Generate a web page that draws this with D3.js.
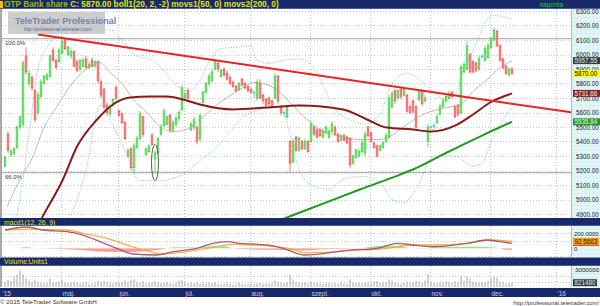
<!DOCTYPE html>
<html>
<head>
<meta charset="utf-8">
<script src="https://cdn.jsdelivr.net/npm/d3@7/dist/d3.min.js"></script>
<style>
body { margin: 0; background: #fff; }
svg { display: block; font-family: "Liberation Sans", Arial, sans-serif; }
</style>
</head>
<body>
<div id="chart"></div>
<script>
// ---- data (trading day index) ----
var monthLabels = ["'15", "máj.", "jún.", "júl.", "aug.", "szept.", "okt.", "nov.", "dec.", "'16"];
var monthStartDay = [0, 20, 39, 61, 83, 103, 123, 143, 163, 185];
var priceTicks = d3.range(4900, 6301, 100);

// daily candles, day 1..170 : [open, high, low, close]
var ohlc = [
 [5230,5300,5220,5290],[5450,5470,5320,5340],[5310,5350,5290,5330],[5320,5360,5300,5350],[5360,5510,5350,5500],
 [5500,5580,5480,5570],[5520,5960,5500,5940],[5990,6050,5860,5880],[5800,5890,5780,5870],[5840,5860,5750,5770],
 [5750,5760,5530,5550],[5600,5740,5580,5720],[5710,5830,5700,5810],[5800,5860,5790,5850],[5830,5870,5820,5860],
 [5850,6000,5840,5990],[6030,6050,5950,5960],[5960,5970,5900,5910],[5950,6050,5940,6030],[6010,6130,6000,6090],
 [6100,6110,6030,6040],[6000,6060,5990,6050],[5990,6040,5970,6020],[6020,6030,5910,5920],[5950,5960,5880,5890],
 [5900,5970,5880,5960],[5920,5980,5910,5960],[5970,5990,5900,5910],[5910,5950,5900,5930],[5960,5980,5910,5920],
 [5920,5960,5910,5950],[5950,5960,5800,5820],[5810,5830,5700,5720],[5760,5770,5620,5640],[5650,5670,5580,5600],
 [5590,5650,5570,5640],[5650,5700,5640,5690],[5770,5790,5680,5700],[5610,5620,5570,5580],[5590,5600,5520,5530],
 [5530,5540,5410,5420],[5300,5350,5290,5340],[5350,5360,5200,5220],[5220,5390,5180,5370],[5360,5440,5350,5420],
 [5420,5610,5410,5590],[5570,5580,5430,5450],[5310,5360,5300,5350],[5330,5380,5320,5370],[5440,5460,5370,5380],
 [5280,5340,5180,5320],[5320,5430,5310,5420],[5450,5520,5440,5500],[5510,5630,5500,5610],[5520,5580,5510,5570],
 [5580,5590,5460,5480],[5480,5550,5460,5530],[5520,5580,5500,5560],[5560,5620,5540,5600],[5620,5790,5610,5770],
 [5700,5750,5690,5730],[5750,5770,5680,5700],[5480,5540,5470,5520],[5500,5570,5480,5550],[5500,5510,5380,5400],
 [5420,5590,5400,5580],[5670,5750,5660,5740],[5740,5810,5730,5800],[5800,5870,5780,5850],[5820,5900,5810,5880],
 [5900,5970,5890,5950],[5940,5950,5880,5900],[5850,5900,5840,5890],[5900,5910,5850,5860],[5870,5890,5820,5830],
 [5840,5860,5790,5800],[5810,5820,5770,5780],[5780,5790,5740,5750],[5760,5810,5750,5800],[5830,5840,5780,5790],
 [5800,5810,5760,5770],[5780,5790,5740,5750],[5760,5770,5730,5740],[5740,5750,5700,5740],[5700,5830,5680,5810],
 [5800,5830,5690,5700],[5720,5730,5660,5680],[5690,5700,5640,5650],[5700,5710,5640,5660],[5680,5690,5630,5640],
 [5700,5870,5690,5850],[5850,5860,5660,5680],[5640,5650,5580,5600],[5600,5610,5570,5600],[5570,5650,5560,5640],
 [5400,5410,5190,5250],[5260,5420,5250,5400],[5430,5440,5330,5340],[5340,5440,5330,5420],[5400,5410,5340,5350],
 [5350,5420,5340,5400],[5400,5410,5320,5330],[5400,5540,5390,5520],[5500,5510,5440,5450],[5480,5490,5420,5430],
 [5480,5490,5430,5440],[5430,5490,5420,5470],[5460,5510,5450,5500],[5430,5490,5420,5470],[5470,5540,5460,5520],
 [5500,5510,5440,5450],[5450,5460,5390,5400],[5410,5450,5400,5440],[5440,5450,5400,5410],[5430,5440,5380,5390],
 [5420,5430,5220,5240],[5250,5310,5240,5300],[5290,5350,5280,5340],[5300,5350,5290,5330],[5330,5410,5320,5390],
 [5320,5470,5300,5450],[5500,5510,5430,5440],[5460,5470,5390,5400],[5390,5400,5350,5360],[5370,5380,5290,5300],
 [5340,5380,5330,5370],[5360,5400,5350,5390],[5400,5460,5390,5440],[5430,5720,5420,5700],[5640,5750,5630,5730],
 [5750,5760,5660,5680],[5700,5760,5690,5750],[5760,5770,5690,5710],[5720,5770,5710,5760],[5720,5730,5600,5610],
 [5640,5650,5590,5600],[5680,5690,5590,5610],[5640,5650,5490,5500],[5690,5760,5680,5750],[5750,5760,5650,5660],
 [5680,5720,5670,5700],[5400,5520,5360,5500],[5500,5510,5490,5500],[5510,5530,5480,5510],[5530,5590,5520,5570],
 [5590,5660,5580,5640],[5640,5700,5630,5680],[5680,5720,5670,5710],[5700,5750,5690,5730],[5740,5750,5700,5710],
 [5640,5650,5560,5570],[5650,5660,5570,5590],[5600,5930,5590,5910],[5880,5950,5870,5930],[5900,6090,5890,6060],
 [6000,6010,5870,5880],[5950,5960,5870,5880],[5940,5950,5880,5890],[5900,5990,5890,5970],[5990,6000,5970,5990],
 [5960,6060,5950,6040],[5980,6080,5970,6060],[6050,6120,6040,6110],[6100,6180,6090,6170],[6160,6170,6050,6060],
 [6060,6070,5950,5960],[5970,5980,5900,5910],[5920,5930,5860,5870],[5860,5910,5850,5900],[5900,5910,5860,5870]
];

// volume per day, thousands
var volume = [
 900,1300,1100,1800,2200,2900,2300,1500,1200,1000, 1400,900,800,700,800,1500,900,800,1000,1300,
 900,700,800,1000,900,700,800,900,600,700, 700,1200,1000,1100,900,800,700,900,800,1000,
 1200,1000,1300,1400,900,800,1100,700,800,900, 1100,900,700,800,900,700,600,800,1200,1300,
 900,700,800,700,900,600,700,600,800,700, 900,600,500,600,700,600,500,600,800,600,
 500,600,700,600,700,800,600,700,600,700, 1200,900,800,700,900,2200,1400,1000,900,800,
 900,700,1000,800,900,700,600,700,800,600, 700,600,900,700,600,1400,900,700,800,700,
 900,800,700,1000,1100,700,800,900,1400,1200, 800,700,600,800,1000,800,900,1100,1000,800,
 1200,2300,1000,800,700,900,800,1000,900,800, 1100,1000,2000,1200,1900,1500,1000,900,800,1000,
 900,1100,1600,1900,1700,1000,900,700,800,821.48
];

// indicator lines: [day, value]
var bollMid = [[1.7,4951],[6,5138],[10.3,5296],[13.7,5483],[18.3,5641],[23.7,5807],[29.3,5917],[32.7,5945],[36,5876],
 [40.3,5793],[43.7,5690],[48.3,5600],[52.7,5503],[57,5469],[61.7,5483],[66,5552],[72.7,5669],[79.3,5758],[83.7,5807],
 [88.3,5793],[92.7,5738],[96,5669],[101.7,5552],[106,5483],[110.3,5448],[119.3,5414],[126,5414],[129.3,5434],
 [132.7,5483],[140.3,5586],[148.3,5634],[152.7,5655],[157,5745],[161.7,5828],[166,5910],[170,5957.55]];
var bollUp = [[3,4700],[6,5000],[9,5450],[12,5900],[16,6080],[20,6160],[24,6200],[30,6200],[33,6170],[36,6170],
 [40,6100],[44,6000],[50,5960],[54,5890],[58,5790],[62,5750],[66,5820],[69,5950],[73,6040],[78,6050],[83,6060],
 [85,5960],[89,5940],[94,5960],[99,5970],[103,5930],[106,5830],[111,5620],[116,5550],[121,5520],[126,5590],
 [130,5800],[135,5870],[139,5830],[143,5760],[148,5690],[151,5720],[154,5900],[158,6070],[161,6220],[164,6270],[167,6260],[170,6240]];
var bollLow = [[20,4800],[25,5000],[29,5300],[31,5550],[33,5650],[36,5550],[41,5340],[46,5130],[52,5130],[60,5170],
 [66,5270],[71,5350],[76,5470],[80,5560],[86,5620],[93,5640],[96,5450],[99,5210],[103,5100],[109,5070],[114,5140],
 [120,5160],[126,5120],[130,5000],[134,4980],[138,5070],[144,5300],[151,5300],[157,5230],[160,5250],[163,5400],
 [167,5550],[170,5640]];
var movs1 = [[11,4780],[13.5,4880],[20.3,5138],[25,5365],[31.7,5552],[37,5655],[42.7,5703],[49.3,5710],[55,5710],
 [60.3,5690],[66,5655],[77,5621],[88.3,5634],[99.3,5648],[113.7,5621],[121.7,5552],[128.3,5496],[137,5483],
 [142.7,5469],[151.7,5517],[157,5586],[162.7,5669],[170,5731.66]];
var movs2 = [[93,4860],[99.3,4910],[119.3,5069],[132.7,5172],[137,5207],[148.3,5324],[159.3,5434],[170,5535.84]];
var trendLine = [[12, 6138], [190, 5600]];
var fibLevels = [{label: "100.0%", value: 6110}, {label: "66.0%", value: 5186}];
var lastValues = [5957.55, 5870.00, 5731.66, 5535.84];

var macdLine = [[1,244],[8.3,284],[13.7,244],[21.7,221],[27,177],[32.7,88],[38.3,0],[43.7,-76],[51.7,-89],[57,-45],
 [65,0],[70.3,67],[75,88],[79.3,67],[88.3,44],[93.7,0],[98.3,-67],[101,-89],[116,-23],[125,0],[131.7,67],[137,44],
 [143.7,21],[155,67],[161.7,111],[166,88],[170,67]];
var macdSignal = [[1,244],[8.3,253],[21.7,244],[27,200],[35,133],[41.7,44],[49.3,-45],[52.7,-76],[61.7,-45],[68.3,0],
 [77,53],[83.7,44],[91.7,21],[97,-13],[101,-60],[116,-32],[128.3,0],[136,44],[147,44],[155,67],[162.7,111],[170,92.5663]];
var macdHist = [[1,0],[6,0],[7,15],[9,15],[10,0],[18,-5],[25,-20],[30,-35],[35,-45],[40,-50],[45,-45],[50,-30],[54,-10],
 [55,0],[58,15],[62,10],[65,10],[68,25],[72,30],[75,25],[77,0],[80,-10],[90,-20],[97,-25],[100,-30],[105,-20],
 [110,-10],[115,-5],[120,0],[123,20],[128,35],[133,30],[136,0],[140,5],[147,15],[155,20],[163,15],[166,0],[168,-20],[170,-20]];

// ---- layout ----
var width = 600, height = 306;
var plot = {left: 2, right: 571, top: 9, bottom: 218};
var macdBox = {top: 226, bottom: 257};
var volBox = {top: 266, bottom: 287};

var svg = d3.select("#chart").append("svg")
    .attr("width", width).attr("height", height);

var x = d3.scaleLinear().domain([0, 190]).range([2, 572]);
var y = d3.scaleLinear().domain([4900, 6300]).range([214, 11]);
var yMacd = d3.scaleLinear().domain([0, 200]).range([248.3, 233.3]);
var yVol = d3.scaleLinear().domain([0, 3000]).range([287.5, 270]);

var defs = svg.append("defs");
var pat = defs.append("pattern").attr("id", "dots").attr("width", 4).attr("height", 4)
    .attr("patternUnits", "userSpaceOnUse");
pat.append("rect").attr("width", 4).attr("height", 4).attr("fill", "#e0f6f6");
pat.append("rect").attr("x", 1).attr("y", 1).attr("width", 1).attr("height", 1).attr("fill", "#b8dede");

function addClip(id, box) {
    defs.append("clipPath").attr("id", id).append("rect")
        .attr("x", plot.left).attr("y", box.top)
        .attr("width", plot.right - plot.left).attr("height", box.bottom - box.top);
}
addClip("clipMain", plot);
addClip("clipMacd", macdBox);
addClip("clipVol", volBox);

// bars (title, panel headers, x axis)
function darkBar(y0, h) {
    svg.append("rect").attr("x", 0).attr("y", y0).attr("width", width).attr("height", h).attr("fill", "#18296a");
    svg.append("rect").attr("x", 0).attr("y", y0 + h - 1).attr("width", width).attr("height", 1).attr("fill", "#4a5a9a");
}
darkBar(0, 9);
darkBar(218, 8);
darkBar(257.5, 8.5);
svg.append("rect").attr("x", 0).attr("y", 288).attr("width", width).attr("height", 9).attr("fill", "#18296a");

svg.append("rect").attr("x", 0).attr("y", 1).attr("width", 3).attr("height", 7).attr("fill", "#f0c000");

// right axis panels
[plot, macdBox, volBox].forEach(function(b) {
    svg.append("rect").attr("x", plot.right).attr("y", b.top).attr("width", width - plot.right)
        .attr("height", b.bottom - b.top).attr("fill", "url(#dots)");
    svg.append("line").attr("x1", plot.right + 0.5).attr("x2", plot.right + 0.5)
        .attr("y1", b.top).attr("y2", b.bottom).attr("stroke", "#c8b47e");
    svg.append("line").attr("x1", 1).attr("x2", 1).attr("y1", b.top).attr("y2", b.bottom)
        .attr("stroke", "#555").attr("stroke-width", 1);
});

// gridlines
var grid = svg.append("g").attr("stroke", "#c4c4c4").attr("stroke-dasharray", "1,2");
grid.selectAll(".h").data(priceTicks).enter().append("line")
    .attr("x1", plot.left).attr("x2", plot.right)
    .attr("y1", function(d) { return Math.round(y(d)) + 0.5; })
    .attr("y2", function(d) { return Math.round(y(d)) + 0.5; });
[macdBox, volBox, plot].forEach(function(b) {
    grid.append("g").selectAll("line").data(monthStartDay.slice(1)).enter().append("line")
        .attr("x1", function(d) { return Math.round(x(d - 0.5)) + 0.5; })
        .attr("x2", function(d) { return Math.round(x(d - 0.5)) + 0.5; })
        .attr("y1", b.top).attr("y2", b.bottom);
});
grid.selectAll(".m").data([-100, 100, 200]).enter().append("line")
    .attr("x1", plot.left).attr("x2", plot.right)
    .attr("y1", function(d) { return Math.round(yMacd(d)) + 0.5; })
    .attr("y2", function(d) { return Math.round(yMacd(d)) + 0.5; });
grid.selectAll(".v").data([1000, 2000]).enter().append("line")
    .attr("x1", plot.left).attr("x2", plot.right)
    .attr("y1", function(d) { return Math.round(yVol(d)) + 0.5; })
    .attr("y2", function(d) { return Math.round(yVol(d)) + 0.5; });

// ---- main price panel ----
var main = svg.append("g").attr("clip-path", "url(#clipMain)");

main.selectAll(".fib").data(fibLevels).enter().append("line")
    .attr("x1", plot.left).attr("x2", plot.right)
    .attr("y1", function(d) { return y(d.value); }).attr("y2", function(d) { return y(d.value); })
    .attr("stroke", "#b4b4b4").attr("stroke-width", 1.2);
main.selectAll(".fibtxt").data(fibLevels).enter().append("text")
    .attr("x", 5).attr("y", function(d) { return y(d.value) + 6; })
    .attr("font-size", 6).attr("fill", "#333").text(function(d) { return d.label; });

var line = d3.line().x(function(d) { return x(d[0]); }).y(function(d) { return y(d[1]); })
    .curve(d3.curveMonotoneX);

main.append("path").attr("d", line(bollUp)).attr("fill", "none")
    .attr("stroke", "#7cc4c4").attr("stroke-dasharray", "1,1.5");
main.append("path").attr("d", line(bollLow)).attr("fill", "none")
    .attr("stroke", "#7cc4c4").attr("stroke-dasharray", "1,1.5");
main.append("path").attr("d", line(bollMid)).attr("fill", "none").attr("stroke", "#bcbcbc");

// candles
var bodyW = 1.6;
function candleStroke(d) { return d[3] > d[0] ? "#44cc44" : d[3] < d[0] ? "#f05858" : "#40cccc"; }
function candleFill(d) { return d[3] > d[0] ? "#a8f4a8" : d[3] < d[0] ? "#ffaaaa" : "#80e0e0"; }
main.selectAll(".wick").data(ohlc).enter().append("line")
    .attr("x1", function(d, i) { return x(i + 1); }).attr("x2", function(d, i) { return x(i + 1); })
    .attr("y1", function(d) { return y(d[1]); }).attr("y2", function(d) { return y(d[2]); })
    .attr("stroke", candleStroke).attr("stroke-width", 0.8);
main.selectAll(".body").data(ohlc).enter().append("rect")
    .attr("x", function(d, i) { return x(i + 1) - bodyW / 2; })
    .attr("width", bodyW)
    .attr("y", function(d) { return y(Math.max(d[0], d[3])); })
    .attr("height", function(d) { return Math.max(0.8, Math.abs(y(d[0]) - y(d[3]))); })
    .attr("fill", candleFill).attr("stroke", candleStroke).attr("stroke-width", 0.8);

main.append("path").attr("d", line(movs1)).attr("fill", "none").attr("stroke", "#8a1a1a").attr("stroke-width", 2);
main.append("path").attr("d", line(movs2)).attr("fill", "none").attr("stroke", "#1e9a1e").attr("stroke-width", 2);
main.append("path").attr("d", d3.line().x(function(d) { return x(d[0]); }).y(function(d) { return y(d[1]); })(trendLine))
    .attr("fill", "none").attr("stroke", "#f02020").attr("stroke-width", 2);

// marked candle
main.append("ellipse").attr("cx", x(51)).attr("cy", y(5255)).attr("rx", 3.5)
    .attr("ry", (y(5130) - y(5380)) / 2).attr("fill", "none").attr("stroke", "#555").attr("stroke-width", 1);

// watermark box
svg.append("rect").attr("x", 8).attr("y", 12).attr("width", 97).attr("height", 22)
    .attr("fill", "#c4c4c4").attr("opacity", 0.85);
svg.append("text").attr("x", 15).attr("y", 24).attr("font-size", 9).attr("font-weight", "bold")
    .attr("fill", "#7482ac").text("TeleTrader Professional");
svg.append("text").attr("x", 24).attr("y", 30.5).attr("font-size", 4.6)
    .attr("fill", "#5a68a0").text("http://professional.teletrader.com/");

// price axis
var yAxis = svg.append("g").attr("transform", "translate(" + (plot.right + 1) + ",0)")
    .call(d3.axisRight(y).tickValues(priceTicks).tickFormat(d3.format(".2f")).tickSize(0).tickPadding(4));
yAxis.select(".domain").remove();
yAxis.selectAll("text").attr("font-size", 6.3).attr("fill", "#222");

var tagColors = [["#3a3a3a", "#e8e8e8"], ["#ffff00", "#000"], ["#8c2020", "#f0f0f0"], ["#229a22", "#f0f0f0"]];
lastValues.forEach(function(v, i) {
    var g = svg.append("g").attr("transform", "translate(" + (plot.right + 2) + "," + y(v) + ")");
    g.append("rect").attr("x", 0).attr("y", -3.5).attr("width", 27).attr("height", 7).attr("fill", tagColors[i][0]);
    g.append("text").attr("x", 1.5).attr("y", 2.5).attr("font-size", 6.3).attr("fill", tagColors[i][1])
        .text(d3.format(".2f")(v));
});

// ---- MACD panel ----
var macdG = svg.append("g").attr("clip-path", "url(#clipMacd)");
var area = d3.area().x(function(d) { return x(d[0]); }).y0(yMacd(0))
    .y1(function(d) { return yMacd(d[1]); }).curve(d3.curveMonotoneX);
defs.append("clipPath").attr("id", "above").append("rect")
    .attr("x", 0).attr("y", macdBox.top).attr("width", width).attr("height", yMacd(0) - macdBox.top);
defs.append("clipPath").attr("id", "below").append("rect")
    .attr("x", 0).attr("y", yMacd(0)).attr("width", width).attr("height", macdBox.bottom - yMacd(0));
macdG.append("path").attr("d", area(macdHist)).attr("fill", "#8ee88e").attr("clip-path", "url(#above)");
macdG.append("path").attr("d", area(macdHist)).attr("fill", "#ff9a9a").attr("clip-path", "url(#below)");
var mline = d3.line().x(function(d) { return x(d[0]); }).y(function(d) { return yMacd(d[1]); })
    .curve(d3.curveMonotoneX);
macdG.append("path").attr("d", mline(macdSignal)).attr("fill", "none").attr("stroke", "#f6b040").attr("stroke-width", 1.3);
macdG.append("path").attr("d", mline(macdLine)).attr("fill", "none").attr("stroke", "#a85c74").attr("stroke-width", 1.3);

var macdAxis = svg.append("g").attr("transform", "translate(" + (plot.right + 1) + ",0)")
    .call(d3.axisRight(yMacd).tickValues([200, 0]).tickFormat(function(d) { return d ? d3.format(".4f")(d) : "0"; })
        .tickSize(0).tickPadding(2));
macdAxis.select(".domain").remove();
macdAxis.selectAll("text").attr("font-size", 5.9).attr("fill", "#222");
var mt = svg.append("g").attr("transform", "translate(" + (plot.right + 2) + "," + yMacd(92.5663) + ")");
mt.append("rect").attr("x", 0).attr("y", 3).attr("width", 26).attr("height", 1.5).attr("fill", "#e03030");
mt.append("rect").attr("x", 0).attr("y", -3.5).attr("width", 26).attr("height", 7).attr("fill", "#ff9c00");
mt.append("text").attr("x", 1.5).attr("y", 2.5).attr("font-size", 6.3).attr("fill", "#222").text("92.5663");

// ---- volume panel ----
var volG = svg.append("g").attr("clip-path", "url(#clipVol)");
volG.selectAll("rect").data(volume).enter().append("rect")
    .attr("x", function(d, i) { return x(i + 1) - 0.5; }).attr("width", 1)
    .attr("y", function(d) { return yVol(d); })
    .attr("height", function(d) { return yVol(0) - yVol(d); })
    .attr("fill", "#a6a6a6");
var volAxis = svg.append("g").attr("transform", "translate(" + (plot.right + 1) + ",0)")
    .call(d3.axisRight(yVol).tickValues([3000]).tickFormat(function(d) { return d * 1000; })
        .tickSize(0).tickPadding(3));
volAxis.select(".domain").remove();
volAxis.selectAll("text").attr("font-size", 6.2).attr("fill", "#222");
var vt = svg.append("g").attr("transform", "translate(" + (plot.right + 2) + "," + yVol(volume[volume.length - 1]) + ")");
vt.append("rect").attr("x", 0).attr("y", -3.5).attr("width", 24).attr("height", 7).attr("fill", "#3a3a3a");
vt.append("text").attr("x", 1.5).attr("y", 2.5).attr("font-size", 6.3).attr("fill", "#e8e8e8").text("821480");

// ---- header texts ----
var title = svg.append("text").attr("x", 4).attr("y", 7.3).attr("font-size", 8.3).attr("font-weight", "bold");
title.append("tspan").attr("fill", "#9cb800").text("OTP Bank share ");
title.append("tspan").attr("fill", "#e4e400").text("C: 5870.00 boll1(20, 2, -2) movs1(50, 0) movs2(200, 0)");
svg.append("text").attr("x", 563).attr("y", 7).attr("font-size", 6.5).attr("text-anchor", "end")
    .attr("fill", "#22cc22").text("naponta");
svg.append("text").attr("x", 4).attr("y", 224.5).attr("font-size", 6.8).attr("fill", "#e4e400").text("macd1(12, 26, 9)");
svg.append("text").attr("x", 4).attr("y", 264).attr("font-size", 6.8).attr("fill", "#e4e400").text("Volume:Units1");

// x axis labels
svg.selectAll(".month").data(monthLabels).enter().append("text")
    .attr("x", function(d, i) { return x(monthStartDay[i] - 0.5) + 2; })
    .attr("y", 295.5).attr("font-size", 6.5).attr("fill", "#c4cce4")
    .text(function(d) { return d; });

// footer
svg.append("text").attr("x", 0).attr("y", 304).attr("font-size", 6.2).attr("fill", "#333")
    .text("© 2015 TeleTrader Software GmbH");
svg.append("text").attr("x", 599).attr("y", 304.5).attr("font-size", 5.8).attr("fill", "#333")
    .attr("text-anchor", "end").text("http://professional.teletrader.com/");
</script>
</body>
</html>
